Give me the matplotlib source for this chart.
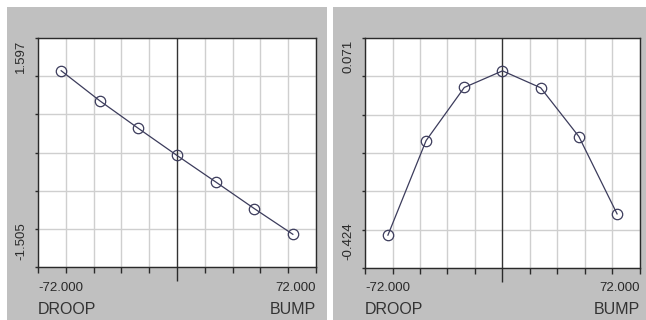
import numpy as np
import matplotlib
matplotlib.use("Agg")
import matplotlib.pyplot as plt
from matplotlib.patches import Rectangle

# camber offsets (x) and the two measured responses
offsets = [-72, -48, -24, 0, 24, 48, 72]
response_left = [1.597, 1.027, 0.503, -0.010, -0.511, -1.017, -1.505]
response_right = [-0.424, -0.139, 0.021, 0.071, 0.020, -0.127, -0.360]
end_labels = ["DROOP", "BUMP"]

W, H = 646, 320
fig = plt.figure(figsize=(W / 100, H / 100), dpi=100, facecolor="white")

fam = ["Liberation Sans Narrow", "Liberation Sans", "DejaVu Sans"]
panel_gray = "#c0c0c0"
ink = "#2a2a2a"
line_c = "#3c3c5c"

# gray panel backgrounds (pixel boxes: x0, x1)
for x0, x1 in [(7, 327), (333, 646)]:
    fig.patches.append(Rectangle((x0 / W, 0), (x1 - x0) / W, (H - 7) / H,
                                 transform=fig.transFigure, facecolor=panel_gray,
                                 edgecolor="none", zorder=-5))

# axes boxes in pixels: left, top, right, bottom
boxes = [(38, 38, 316, 267), (365, 38, 640, 268)]
series = [response_left, response_right]

for (l, t, r, b), vals in zip(boxes, series):
    ax = fig.add_axes([l / W, (H - b) / H, (r - l) / W, (b - t) / H])
    ax.set_zorder(2)
    ax.set_facecolor("white")

    xmax = max(abs(v) for v in offsets) * 1.2
    ax.set_xlim(-xmax, xmax)
    lo, hi = min(vals), max(vals)
    pad = 0.2 * (hi - lo)
    ax.set_ylim(lo - pad, hi + pad)

    xt = np.linspace(-xmax, xmax, 11)
    ax.set_xticks([v for i, v in enumerate(xt) if i != 5])
    ax.set_xticks([0], minor=True)
    yt = np.linspace(lo - pad, hi + pad, 7)
    ax.set_yticks(yt)
    ax.set_xticklabels([])
    ax.set_yticklabels([])
    ax.tick_params(axis="x", which="major", direction="out", length=4, width=1, color=ink)
    ax.tick_params(axis="x", which="minor", direction="out", length=10, width=1, color=ink)
    ax.tick_params(axis="y", direction="out", length=2.5, width=1, color=ink)
    ax.grid(True, which="major", color="#cfcfcf", linewidth=1)
    ax.set_axisbelow(True)
    for s in ax.spines.values():
        s.set_color(ink)
        s.set_linewidth(1)

    ax.axvline(0, color="#333333", linewidth=1, zorder=2)
    ax.plot(offsets, vals, color=line_c, linewidth=0.9, marker="o", markersize=7.5,
            markerfacecolor="none", markeredgecolor=line_c, markeredgewidth=0.9, zorder=3)

    # min / max annotations
    lab_x = (l - 17) / W
    fig.text(lab_x, (H - 40) / H, f"{hi:.3f}", rotation=90, ha="center", va="top",
             fontsize=9.5, family=fam, color=ink)
    fig.text(lab_x, (H - 260) / H, f"{lo:.3f}", rotation=90, ha="center", va="bottom",
             fontsize=9.5, family=fam, color=ink)
    fig.text(l / W, (H - 282) / H, f"{min(offsets):.3f}", ha="left", va="top",
             fontsize=9.5, family=fam, color=ink)
    fig.text(r / W, (H - 282) / H, f"{max(offsets):.3f}", ha="right", va="top",
             fontsize=9.5, family=fam, color=ink)
    fig.text(l / W, (H - 317) / H, end_labels[0], ha="left", va="bottom",
             fontsize=11.5, family=fam, color="#333333")
    fig.text(r / W, (H - 317) / H, end_labels[1], ha="right", va="bottom",
             fontsize=11.5, family=fam, color="#333333")

fig.savefig("out.png", dpi=100, facecolor=fig.get_facecolor())
